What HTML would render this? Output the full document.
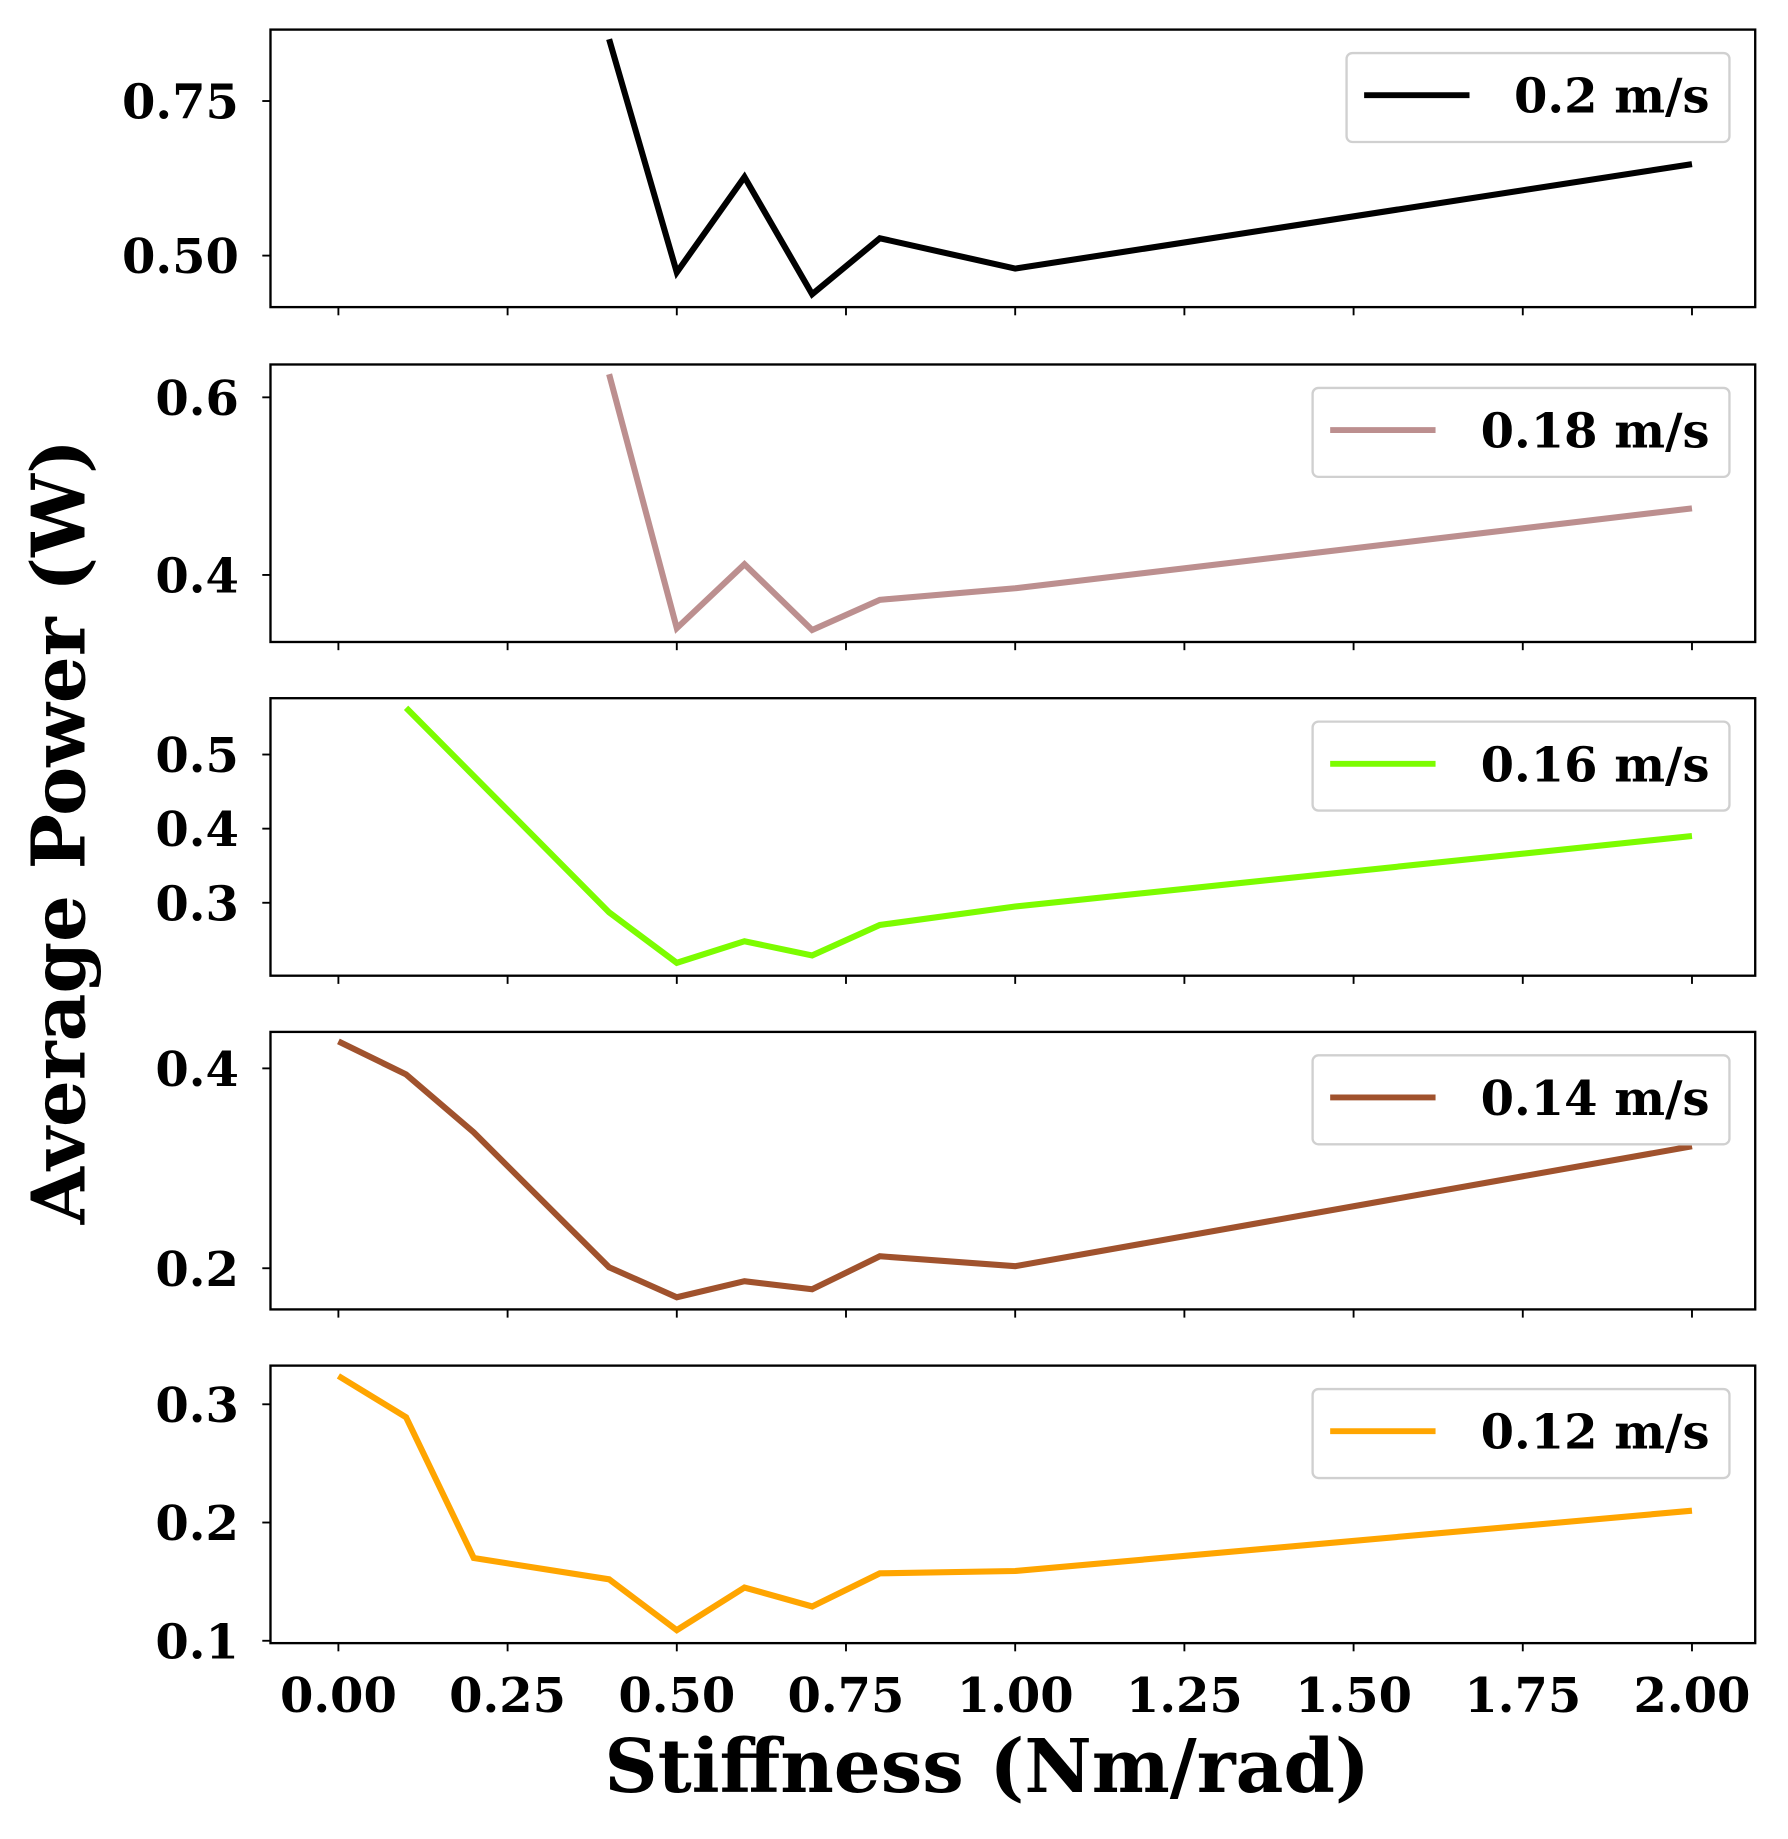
<!DOCTYPE html>
<html><head><meta charset="utf-8"><style>
html,body{margin:0;padding:0;background:#fff}
svg{display:block}
text{font-family:"DejaVu Serif","Liberation Serif",serif;font-weight:bold;fill:#000}
</style></head><body>
<svg id="chart" width="1788" height="1839" viewBox="0 0 1527 1570" xmlns="http://www.w3.org/2000/svg">
<text transform="translate(72,710) rotate(-90)" text-anchor="middle" font-size="63">Average Power (W)</text>
<text x="843" y="1530" text-anchor="middle" font-size="63">Stiffness (Nm/rad)</text>
</svg>
<script>
const stiffness = [0, 0.1, 0.2, 0.4, 0.5, 0.6, 0.7, 0.8, 1.0, 2.0];
const labels = ["0.2 m/s", "0.18 m/s", "0.16 m/s", "0.14 m/s", "0.12 m/s"];
const colors = ["#000000", "#bc8f8f", "#7cfc00", "#a0522d", "#ffa500"];
const p02 = [null, null, null, 0.850, 0.473, 0.627, 0.4375, 0.528, 0.479, 0.648];
const p018 = [null, null, null, 0.626, 0.340, 0.412, 0.338, 0.372, 0.385, 0.475];
const p016 = [null, 0.563, null, 0.287, 0.219, 0.248, 0.229, 0.270, 0.295, 0.390];
const p014 = [0.427, 0.394, 0.336, 0.201, 0.171, 0.187, 0.179, 0.212, 0.202, 0.322];
const p012 = [0.324, 0.289, 0.170, 0.152, 0.109, 0.145, 0.129, 0.157, 0.159, 0.210];
const xTicks = [0, 0.25, 0.5, 0.75, 1.0, 1.25, 1.5, 1.75, 2.0];
const xTickLabels = ["0.00","0.25","0.50","0.75","1.00","1.25","1.50","1.75","2.00"];
const yTicks = [[0.5, 0.75], [0.4, 0.6], [0.3, 0.4, 0.5], [0.2, 0.4], [0.1, 0.2, 0.3]];
const yTickLabels = [["0.50","0.75"], ["0.4","0.6"], ["0.3","0.4","0.5"], ["0.2","0.4"], ["0.1","0.2","0.3"]];
const yDomains = [[0.4167, 0.8655], [0.3245, 0.637], [0.2016, 0.576], [0.1588, 0.4365], [0.098, 0.3327]];
const series = [p02, p018, p016, p014, p012];

const NS = "http://www.w3.org/2000/svg";
const svg = document.getElementById("chart");
const L = 231, R = 1499;
const tops = [25, 311, 596, 881, 1166], H = 237;
function xs(v){ return 289 + v * (1445 - 289) / 2; }
function mk(tag, attrs){ const e = document.createElementNS(NS, tag); for (const k in attrs) e.setAttribute(k, attrs[k]); svg.appendChild(e); return e; }

series.forEach((vals, i) => {
  const top = tops[i], bot = top + H, d = yDomains[i];
  const ys = v => bot - (v - d[0]) / (d[1] - d[0]) * H;
  const pts = [];
  vals.forEach((v, j) => { if (v !== null) pts.push(xs(stiffness[j]).toFixed(1) + "," + ys(v).toFixed(1)); });
  const cp = mk("clipPath", {id: "clip" + i});
  const cr = document.createElementNS(NS, "rect");
  cr.setAttribute("x", L); cr.setAttribute("y", top); cr.setAttribute("width", R - L); cr.setAttribute("height", H);
  cp.appendChild(cr);
  const line = mk("polyline", {points: pts.join(" "), fill: "none", stroke: colors[i], "stroke-width": 5.2, "stroke-linejoin": "miter", "clip-path": "url(#clip" + i + ")"});
  
  
  const fr = mk("rect", {x: L, y: top, width: R - L, height: H, fill: "none", stroke: "#000", "stroke-width": 2});
  
  
  yTicks[i].forEach((t, k) => {
    const y = ys(t);
    mk("line", {x1: L - 7, x2: L, y1: y, y2: y, stroke: "#000", "stroke-width": 1.6});
    const tx = mk("text", {x: 204, y: y + 15, "text-anchor": "end", "font-size": 41});
    tx.textContent = yTickLabels[i][k];
    
    
  });
  xTicks.forEach((t, k) => {
    const x = xs(t);
    mk("line", {x1: x, x2: x, y1: bot, y2: bot + 7, stroke: "#000", "stroke-width": 1.6});
    if (i === 4) {
      const tx = mk("text", {x: x, y: bot + 59, "text-anchor": "middle", "font-size": 41});
      tx.textContent = xTickLabels[k];
      
      
    }
  });
  const lx = i === 0 ? 1150 : 1121;
  const lg = mk("rect", {x: lx, y: top + 20, width: 1477 - lx, height: 76, rx: 5, fill: "#fff", stroke: "#d0d0d0", "stroke-width": 2});
  
  
  mk("line", {x1: lx + 15, x2: lx + 105, y1: top + 56, y2: top + 56, stroke: colors[i], "stroke-width": 5});
  const lt = mk("text", {x: 1460, y: top + 71, "text-anchor": "end", "font-size": 41});
  lt.textContent = labels[i];
  
  
});
</script>
</body></html>
